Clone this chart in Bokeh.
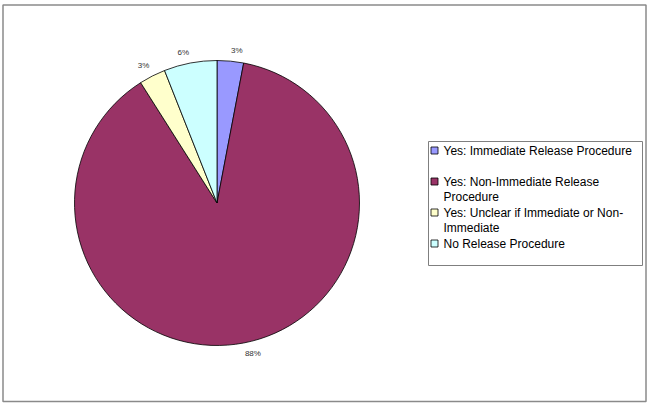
import math
from bokeh.plotting import figure
from bokeh.models import Range1d
from bokeh.core.properties import value
from bokeh.embed import file_html
from bokeh.resources import INLINE

# ---- data ----
categories = [
    "Yes: Immediate Release Procedure",
    "Yes: Non-Immediate Release\nProcedure",
    "Yes: Unclear if Immediate or Non-\nImmediate",
    "No Release Procedure",
]
shares = [3, 88, 3, 6]
pct_labels = ["3%", "88%", "3%", "6%"]
colors = ["#9999FF", "#993366", "#FFFFCC", "#CCFFFF"]

W, H = 647, 406
def Y(py):
    return H - py

p = figure(width=W, height=H, output_backend="svg", toolbar_location=None,
           x_range=Range1d(0, W), y_range=Range1d(0, H), min_border=0)
p.axis.visible = False
p.grid.visible = False
p.outline_line_color = None
p.background_fill_color = "white"
p.border_fill_color = "white"

# outer frame
p.quad(left=[2.5], right=[645.5], top=[Y(4.5)], bottom=[Y(401)],
       fill_color=None, line_color="#8a8a8a", line_width=1.5)

# pie
cx, cy, R = 216.5, Y(202.5), 142.5
total = float(sum(shares))
starts, ends, mids = [], [], []
cum = 0.0
for s in shares:
    a0 = math.pi / 2 - (cum + s) / total * 2 * math.pi
    a1 = math.pi / 2 - cum / total * 2 * math.pi
    starts.append(a0)
    ends.append(a1)
    mids.append((a0 + a1) / 2)
    cum += s

p.wedge(x=[cx] * len(shares), y=[cy] * len(shares), radius=R,
        start_angle=starts, end_angle=ends, direction="anticlock",
        fill_color=colors, line_color="black", line_width=0.8)

# percentage labels
LR = 149
for lab, m in zip(pct_labels, mids):
    px = cx + LR * math.cos(m)
    py = cy + LR * math.sin(m)
    align = "left" if math.cos(m) >= 0 else "right"
    base = "bottom" if math.sin(m) >= 0 else "top"
    p.text(x=[px], y=[py], text=[lab], text_font=value("Liberation Sans"),
           text_font_size="8px", text_color="#333333",
           text_align=align, text_baseline=base)

# legend box
p.quad(left=[428], right=[642], top=[Y(141)], bottom=[Y(265)],
       fill_color="white", line_color="#7f7f7f", line_width=1)

for i, (cat, col) in enumerate(zip(categories, colors)):
    y0 = 150 + 31 * i
    p.rect(x=[434], y=[Y(y0)], width=7, height=7, fill_color=col,
           line_color="black", line_width=0.8)
    for j, line in enumerate(cat.split("\n")):
        p.text(x=[443], y=[Y(y0 + 15 * j)], text=[line],
               text_font=value("Liberation Sans"), text_font_size="12px",
               text_color="black", text_align="left", text_baseline="middle")

open("out.html", "w").write(file_html(p, INLINE))
